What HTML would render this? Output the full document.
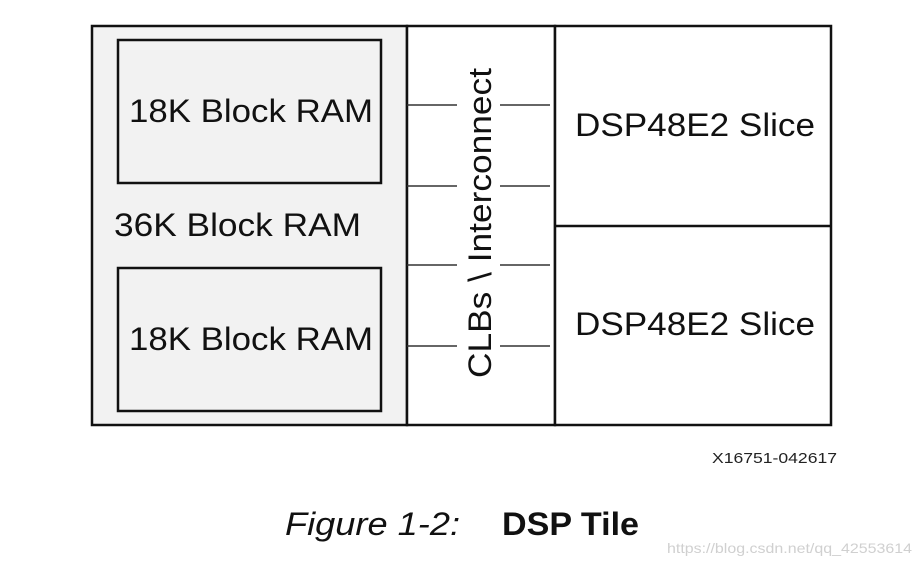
<!DOCTYPE html>
<html><head><style>html,body{margin:0;padding:0;background:#fff}svg{display:block}</style></head>
<body>
<svg width="920" height="565" xmlns="http://www.w3.org/2000/svg" font-family="Liberation Sans, Arial, sans-serif">
<rect x="0" y="0" width="920" height="565" fill="#fff"/>
<rect x="92" y="26" width="315" height="399" fill="#f2f2f2" stroke="#111" stroke-width="2.5"/>
<rect x="407" y="26" width="148" height="399" fill="#fff" stroke="#111" stroke-width="2.5"/>
<rect x="555" y="26" width="276" height="399" fill="#fff" stroke="#111" stroke-width="2.5"/>
<line x1="555" y1="226" x2="831" y2="226" stroke="#111" stroke-width="2.5"/>
<rect x="118" y="40" width="263" height="143" fill="#f2f2f2" stroke="#111" stroke-width="2.5"/>
<rect x="118" y="268" width="263" height="143" fill="#f2f2f2" stroke="#111" stroke-width="2.5"/>
<g stroke="#333" stroke-width="1.5">
<line x1="407" y1="105" x2="457" y2="105"/><line x1="500" y1="105" x2="550" y2="105"/>
<line x1="407" y1="186" x2="457" y2="186"/><line x1="500" y1="186" x2="550" y2="186"/>
<line x1="407" y1="265" x2="457" y2="265"/><line x1="500" y1="265" x2="550" y2="265"/>
<line x1="407" y1="346" x2="457" y2="346"/><line x1="500" y1="346" x2="550" y2="346"/>
</g>
<g font-size="32" fill="#111">
<text x="129" y="122" textLength="244" lengthAdjust="spacingAndGlyphs">18K Block RAM</text>
<text x="129" y="350" textLength="244" lengthAdjust="spacingAndGlyphs">18K Block RAM</text>
<text x="114" y="236" textLength="247" lengthAdjust="spacingAndGlyphs">36K Block RAM</text>
<text x="575" y="136" textLength="240" lengthAdjust="spacingAndGlyphs">DSP48E2 Slice</text>
<text x="575" y="335" textLength="240" lengthAdjust="spacingAndGlyphs">DSP48E2 Slice</text>
<text transform="translate(491,378) rotate(-90)" x="0" y="0" textLength="310" lengthAdjust="spacingAndGlyphs">CLBs \ Interconnect</text>
</g>
<text x="712" y="463" font-size="15" fill="#222" textLength="125" lengthAdjust="spacingAndGlyphs">X16751-042617</text>
<text x="285" y="535" font-size="32" font-style="italic" fill="#111" textLength="175" lengthAdjust="spacingAndGlyphs">Figure 1-2:</text>
<text x="502" y="535" font-size="32" font-weight="bold" fill="#111" textLength="137" lengthAdjust="spacingAndGlyphs">DSP Tile</text>
<text x="667" y="553" font-size="14" fill="#d0d0d0" textLength="245" lengthAdjust="spacingAndGlyphs">https://blog.csdn.net/qq_42553614</text>
</svg>
</body></html>
